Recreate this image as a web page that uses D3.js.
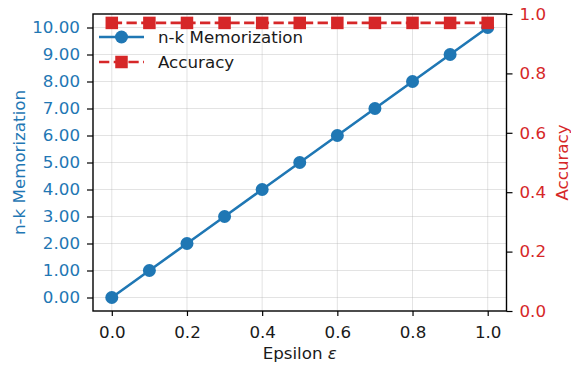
<!DOCTYPE html>
<html>
<head>
<meta charset="utf-8">
<script src="https://cdn.jsdelivr.net/npm/d3@7"></script>
<style>
  body { margin: 0; background: #fff; }
  text { font-family: "DejaVu Sans", sans-serif; }
</style>
</head>
<body>
<div id="chart"></div>
<script>
// data
const epsilon = [0.0, 0.1, 0.2, 0.3, 0.4, 0.5, 0.6, 0.7, 0.8, 0.9, 1.0]
const memorization = [0, 1, 2, 3, 4, 5, 6, 7, 8, 9, 10]
const accuracy = [0.97, 0.97, 0.97, 0.97, 0.97, 0.97, 0.97, 0.97, 0.97, 0.97, 0.97]
const xTicks = [0, 0.2, 0.4, 0.6, 0.8, 1.0]
const leftTicks = [0, 1, 2, 3, 4, 5, 6, 7, 8, 9, 10]
const rightTicks = [0, 0.2, 0.4, 0.6, 0.8, 1.0]

const width = 571
const height = 369
const margin = {top: 14, right: 64.5, bottom: 58, left: 93}
const blue = "#1f77b4"
const red = "#d62728"
const fs = 16.7
const lw = 2.6
const dash = "10.3,4.4"

const svg = d3.select("#chart")
  .append("svg")
    .attr("width", width)
    .attr("height", height)

const x = d3.scaleLinear()
  .domain([-0.05, 1.05])
  .range([margin.left, width - margin.right])
const yL = d3.scaleLinear()
  .domain([-0.5, 10.5])
  .range([height - margin.bottom, margin.top])
const yR = d3.scaleLinear()
  .domain([0, 1])
  .range([height - margin.bottom, margin.top])

// grid
svg.append("g")
  .selectAll("line")
  .data(xTicks)
  .join("line")
    .attr("x1", d => x(d)).attr("x2", d => x(d))
    .attr("y1", margin.top).attr("y2", height - margin.bottom)
    .attr("stroke", "#b0b0b0").attr("stroke-opacity", 0.35).attr("stroke-width", 1)
svg.append("g")
  .selectAll("line")
  .data(leftTicks)
  .join("line")
    .attr("x1", margin.left).attr("x2", width - margin.right)
    .attr("y1", d => yL(d)).attr("y2", d => yL(d))
    .attr("stroke", "#b0b0b0").attr("stroke-opacity", 0.35).attr("stroke-width", 1)

// axes
const xAxis = svg.append("g")
  .attr("transform", `translate(0,${height - margin.bottom})`)
  .call(d3.axisBottom(x).tickValues(xTicks).tickFormat(d3.format(".1f")).tickSizeOuter(0).tickSize(5).tickPadding(10))
const leftAxis = svg.append("g")
  .attr("transform", `translate(${margin.left},0)`)
  .call(d3.axisLeft(yL).tickValues(leftTicks).tickFormat(d3.format(".2f")).tickSizeOuter(0).tickSize(6).tickPadding(7))
const rightAxis = svg.append("g")
  .attr("transform", `translate(${width - margin.right},0)`)
  .call(d3.axisRight(yR).tickValues(rightTicks).tickFormat(d3.format(".1f")).tickSizeOuter(0).tickSize(6).tickPadding(7))

;[xAxis, leftAxis, rightAxis].forEach(g => {
  g.selectAll("text").style("font-size", fs + "px").style("font-family", "DejaVu Sans")
  g.selectAll("line").attr("stroke", "#000").attr("stroke-width", 1.2)
  g.select(".domain").remove()
})
xAxis.selectAll("text").attr("fill", "#1a1a1a")
leftAxis.selectAll("text").attr("fill", blue)
rightAxis.selectAll("text").attr("fill", red)

// frame
svg.append("rect")
  .attr("x", margin.left).attr("y", margin.top)
  .attr("width", width - margin.left - margin.right)
  .attr("height", height - margin.top - margin.bottom)
  .attr("fill", "none").attr("stroke", "#000").attr("stroke-width", 1.4)

// memorization line
const memData = epsilon.map((e, i) => ({e: e, v: memorization[i]}))
svg.append("path")
  .datum(memData)
  .attr("fill", "none").attr("stroke", blue).attr("stroke-width", lw)
  .attr("d", d3.line().x(d => x(d.e)).y(d => yL(d.v)))
svg.append("g")
  .selectAll("circle")
  .data(memData)
  .join("circle")
    .attr("cx", d => x(d.e)).attr("cy", d => yL(d.v))
    .attr("r", 6.5).attr("fill", blue)

// accuracy line
const accData = epsilon.map((e, i) => ({e: e, v: accuracy[i]}))
svg.append("path")
  .datum(accData)
  .attr("fill", "none").attr("stroke", red).attr("stroke-width", lw)
  .attr("stroke-dasharray", dash)
  .attr("d", d3.line().x(d => x(d.e)).y(d => yR(d.v)))
svg.append("g")
  .selectAll("rect")
  .data(accData)
  .join("rect")
    .attr("x", d => x(d.e) - 6.25).attr("y", d => yR(d.v) - 6.25)
    .attr("width", 12.5).attr("height", 12.5).attr("fill", red)

// axis labels
svg.append("text")
  .attr("x", x(0.5)).attr("y", 358.5)
  .attr("text-anchor", "middle").style("font-size", fs + "px").attr("fill", "#1a1a1a")
  .html("Epsilon <tspan font-style='italic'>ε</tspan>")
svg.append("text")
  .attr("transform", `translate(25,${(margin.top + height - margin.bottom) / 2}) rotate(-90)`)
  .attr("text-anchor", "middle").style("font-size", fs + "px").attr("fill", blue)
  .text("n-k Memorization")
svg.append("text")
  .attr("transform", `translate(568,${(margin.top + height - margin.bottom) / 2}) rotate(-90)`)
  .attr("text-anchor", "middle").style("font-size", fs + "px").attr("fill", red)
  .text("Accuracy")

// legend
const legendData = [
  {label: "n-k Memorization", color: blue, shape: "circle", dash: null},
  {label: "Accuracy", color: red, shape: "square", dash: dash}
]
const legend = svg.append("g").attr("transform", "translate(99,37)")
const items = legend.selectAll("g")
  .data(legendData)
  .join("g")
    .attr("transform", (d, i) => `translate(0,${i * 25})`)
items.append("line")
  .attr("x1", 0).attr("x2", 45).attr("y1", 0).attr("y2", 0)
  .attr("stroke", d => d.color).attr("stroke-width", lw)
  .attr("stroke-dasharray", d => d.dash)
items.each(function(d) {
  const g = d3.select(this)
  if (d.shape === "circle") {
    g.append("circle").attr("cx", 22.5).attr("cy", 0).attr("r", 6.5).attr("fill", d.color)
  } else {
    g.append("rect").attr("x", 16.25).attr("y", -6.25).attr("width", 12.5).attr("height", 12.5).attr("fill", d.color)
  }
})
items.append("text")
  .attr("x", 59).attr("y", 0).attr("dy", "0.36em")
  .style("font-size", fs + "px").attr("fill", "#1a1a1a")
  .text(d => d.label)
</script>
</body>
</html>
